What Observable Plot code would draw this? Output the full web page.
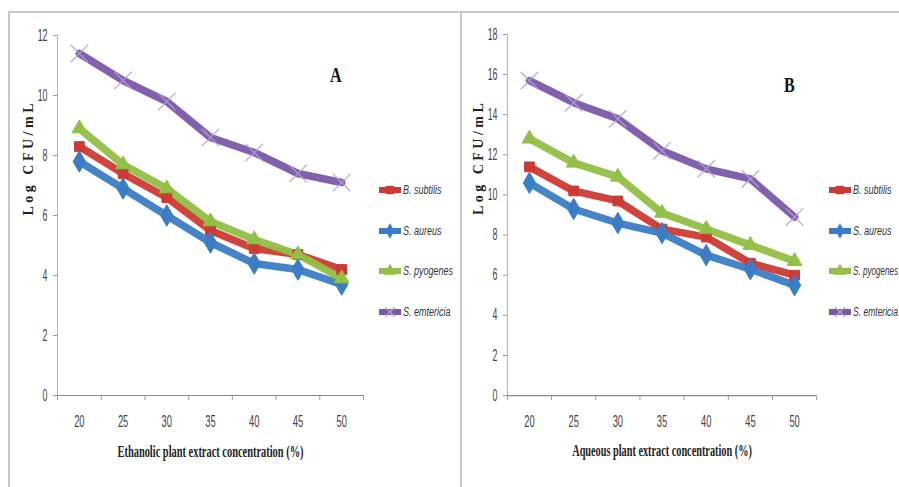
<!DOCTYPE html>
<html>
<head>
<meta charset="utf-8">
<script src="https://cdn.jsdelivr.net/npm/d3@7"></script>
<script src="https://cdn.jsdelivr.net/npm/@observablehq/plot@0.6"></script>
<style>
  html, body { margin: 0; padding: 0; background: #fff; }
  #wrap { position: relative; width: 899px; height: 487px; overflow: hidden; background: #fff; }
  .panel { position: absolute; top: 0; }
  .frame-top { position: absolute; left: 8px; top: 11px; width: 891px; height: 2px; background: #c8c8c8; }
  .frame-v { position: absolute; top: 11px; width: 2px; height: 476px; background: #c8c8c8; }
  .legend { position: absolute; }
</style>
</head>
<body>
<div id="wrap">
  <div class="frame-top"></div>
  <div class="frame-v" style="left:8px"></div>
  <div class="frame-v" style="left:460px"></div>
  <div id="panelA" class="panel" style="left:0px"></div>
  <div id="panelB" class="panel" style="left:450px"></div>
  <div id="legendA" class="legend" style="left:378px; top:182px"></div>
  <div id="legendB" class="legend" style="left:828px; top:182px"></div>
</div>
<script>
// ---- data ----
const concentrations = [20, 25, 30, 35, 40, 45, 50];
const seriesNames = ["B. subtilis", "S. aureus", "S. pyogenes", "S. emtericia"];

// Panel A: ethanolic extract
const ethBsubtilis  = [8.3, 7.4, 6.6, 5.5, 4.9, 4.7, 4.2];
const ethSaureus    = [7.8, 6.9, 6.0, 5.1, 4.4, 4.2, 3.7];
const ethSpyogenes  = [8.9, 7.7, 6.9, 5.8, 5.2, 4.7, 3.9];
const ethSemtericia = [11.4, 10.5, 9.8, 8.6, 8.1, 7.4, 7.1];

// Panel B: aqueous extract
const aqBsubtilis  = [11.4, 10.2, 9.7, 8.3, 7.9, 6.6, 6.0];
const aqSaureus    = [10.6, 9.3, 8.6, 8.1, 7.0, 6.3, 5.5];
const aqSpyogenes  = [12.8, 11.6, 10.9, 9.1, 8.3, 7.5, 6.7];
const aqSemtericia = [15.7, 14.6, 13.8, 12.2, 11.3, 10.8, 8.9];

const yTicksA = [0, 2, 4, 6, 8, 10, 12];
const yTicksB = [0, 2, 4, 6, 8, 10, 12, 14, 16, 18];

// ---- styles ----
const colors = ["#cc3a33", "#3b7dc4", "#92bf45", "#7b57a6"];
const markerColors = ["#cc3a33", "#3b7dc4", "#92bf45", "#b3a3d6"];
const symbols = ["square", "diamond", "triangle", "times"];
const tickFont = '"Liberation Sans", Arial, sans-serif';
const titleFont = '"Liberation Serif", "DejaVu Serif", serif';
const yTitle = "Log CFU/mL";

function table(arrays) {
  const rows = [];
  arrays.forEach((vals, si) => {
    vals.forEach((v, i) => rows.push({series: seriesNames[si], si, x: concentrations[i], y: v}));
  });
  return rows;
}

function panel({arrays, yTicks, xTitle, letter, letterDy, width, height, marginLeft, marginRight, marginTop, marginBottom}) {
  const data = table(arrays);
  const step = concentrations[1] - concentrations[0];
  const lo = concentrations[0] - step / 2;
  const hi = concentrations[concentrations.length - 1] + step / 2;
  const boundaries = concentrations.map(c => c - step / 2).concat([hi]);
  const yMax = yTicks[yTicks.length - 1];
  const marks = [
    Plot.ruleY([0], {stroke: "#8a8a8a", strokeWidth: 1.2}),
    Plot.ruleX([lo], {stroke: "#b0b0b0", strokeWidth: 1}),
    Plot.axisX({ticks: boundaries, tickSize: 5, tickFormat: () => "", stroke: "#9a9a9a", label: null}),
    Plot.axisX({ticks: concentrations, tickSize: 0, tickPadding: 19, fontSize: 17, fontFamily: tickFont, fill: "#444", label: null}),
    Plot.axisY({ticks: yTicks, tickSize: 4, tickPadding: 6, fontSize: 16, fontFamily: tickFont, fill: "#444", stroke: "#9a9a9a", label: null})
  ];
  seriesNames.forEach((name, si) => {
    const d = data.filter(r => r.si === si);
    marks.push(Plot.line(d, {x: "x", y: "y", stroke: colors[si], strokeWidth: 7.5, strokeLinejoin: "round", strokeLinecap: "round", strokeOpacity: 0.95}));
  });
  seriesNames.forEach((name, si) => {
    const d = data.filter(r => r.si === si);
    if (symbols[si] === "times") {
      marks.push(Plot.dot(d, {x: "x", y: "y", symbol: "times", r: 8, stroke: markerColors[si], strokeWidth: 1.5, strokeOpacity: 0.8}));
    } else {
      marks.push(Plot.dot(d, {x: "x", y: "y", symbol: symbols[si], r: symbols[si] === "diamond" ? 6.5 : 5.5, fill: colors[si], stroke: colors[si], strokeWidth: 1}));
    }
  });
  marks.push(Plot.text([xTitle], {frameAnchor: "bottom", dy: 61, text: d => d, fontFamily: titleFont, fontWeight: "bold", fontSize: 16, fill: "#222"}));
  marks.push(Plot.text([yTitle], {frameAnchor: "left", dx: -29, rotate: -90, text: d => d, fontFamily: titleFont, fontWeight: "bold", fontSize: 14, fill: "#222"}));
  marks.push(Plot.text([letter], {frameAnchor: "top-right", dx: -22, dy: letterDy, text: d => d, fontFamily: titleFont, fontWeight: "bold", fontSize: 20, fill: "#111"}));
  return Plot.plot({
    width, height, marginLeft, marginRight, marginTop, marginBottom,
    style: {background: "transparent", overflow: "visible"},
    x: {type: "linear", domain: [lo, hi]},
    y: {domain: [0, yMax]},
    marks
  });
}

function squeeze(svg, xTitle, xTitleLen, letter) {
  svg.querySelectorAll("text").forEach(t => {
    const s = t.textContent.trim();
    if (!s) return;
    if (/^\d+$/.test(s)) {
      const L = t.getComputedTextLength();
      if (L > 0) { t.setAttribute("textLength", (L * 0.55).toFixed(1)); t.setAttribute("lengthAdjust", "spacingAndGlyphs"); }
    } else if (s === xTitle) {
      t.setAttribute("textLength", xTitleLen); t.setAttribute("lengthAdjust", "spacingAndGlyphs");
    } else if (s === yTitle) {
      t.setAttribute("textLength", 112); t.setAttribute("lengthAdjust", "spacing");
    } else if (s === letter) {
      const L = t.getComputedTextLength();
      t.setAttribute("textLength", (L * 0.8).toFixed(1)); t.setAttribute("lengthAdjust", "spacingAndGlyphs");
    }
  });
}

const xTitleA = "Ethanolic plant extract concentration (%)";
const xTitleB = "Aqueous plant extract concentration (%)";

const svgA = panel({
  arrays: [ethBsubtilis, ethSaureus, ethSpyogenes, ethSemtericia],
  yTicks: yTicksA, xTitle: xTitleA, letter: "A", letterDy: 32,
  width: 450, height: 487, marginLeft: 57, marginRight: 87, marginTop: 35, marginBottom: 92
});
document.getElementById("panelA").appendChild(svgA);
squeeze(svgA, xTitleA, 186, "A");

const svgB = panel({
  arrays: [aqBsubtilis, aqSaureus, aqSpyogenes, aqSemtericia],
  yTicks: yTicksB, xTitle: xTitleB, letter: "B", letterDy: 44,
  width: 450, height: 487, marginLeft: 57, marginRight: 83, marginTop: 34, marginBottom: 91
});
document.getElementById("panelB").appendChild(svgB);
squeeze(svgB, xTitleB, 180, "B");

// ---- legends (SVG, narrow italic text) ----
function legend(el, maxW) {
  const gaps = [0, 41, 81, 122];
  const svg = d3.select(el).append("svg").attr("width", maxW).attr("height", 140).style("overflow", "visible");
  seriesNames.forEach((name, si) => {
    const g = svg.append("g").attr("transform", `translate(0,${gaps[si] + 8})`);
    g.append("line").attr("x1", 1).attr("x2", 23).attr("stroke", colors[si]).attr("stroke-width", 6);
    const type = symbols[si] === "square" ? d3.symbolSquare : symbols[si] === "diamond" ? d3.symbolDiamond : symbols[si] === "triangle" ? d3.symbolTriangle : d3.symbolTimes;
    const p = g.append("path").attr("d", d3.symbol().type(type).size(symbols[si] === "times" ? 60 : 70)()).attr("transform", "translate(12,0)");
    if (symbols[si] === "times") p.attr("fill", "none").attr("stroke", markerColors[si]).attr("stroke-width", 1.2);
    else p.attr("fill", colors[si]);
    const t = g.append("text").attr("x", 25).attr("dy", "0.35em")
      .attr("font-family", '"Liberation Sans", Arial, sans-serif').attr("font-style", "italic")
      .attr("font-size", 12.5).attr("fill", "#333").text(name);
    const L = t.node().getComputedTextLength();
    t.attr("textLength", (Math.min(L * 0.72, maxW - 26)).toFixed(1)).attr("lengthAdjust", "spacingAndGlyphs");
  });
}
legend(document.getElementById("legendA"), 90);
legend(document.getElementById("legendB"), 71);
</script>
</body>
</html>
